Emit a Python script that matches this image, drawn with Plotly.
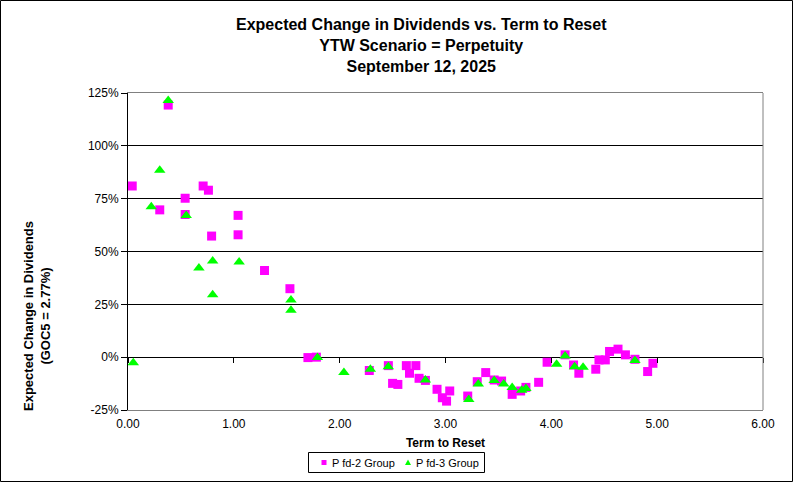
import plotly.graph_objects as go

# Pfd-2 Group (term to reset in years, expected change in dividends in %)
pfd2_x = [0.04, 0.38, 0.30, 0.54, 0.54, 0.71, 0.76, 0.79, 1.04, 1.04,
          1.29, 1.53, 1.70, 1.78, 2.28, 2.46, 2.50, 2.55, 2.63, 2.72,
          2.66, 2.75, 2.81, 2.92, 2.97, 3.01, 3.04, 3.21, 3.30, 3.38,
          3.46, 3.53, 3.63, 3.71, 3.76, 3.88, 3.96, 4.13, 4.21, 4.26,
          4.42, 4.45, 4.51, 4.55, 4.63, 4.70, 4.79, 4.91, 4.96]
pfd2_y = [81, 119.3, 69.7, 75.2, 67.5, 81, 79, 57.3, 67.1, 57.9,
          41, 32.4, -0.2, 0, -6.3, -4, -12.4, -12.9, -4, -4,
          -7.6, -10, -11, -15.2, -19.2, -20.8, -16, -18.4, -11.6, -7.3,
          -10.8, -11.3, -17.6, -16, -14.3, -11.9, -2.4, 1.1, -3.7, -7.6,
          -5.7, -1.3, -1.3, 2.7, 3.8, 1.1, -1, -6.8, -2.9]

# Pfd-3 Group
pfd3_x = [0.05, 0.22, 0.30, 0.38, 0.55, 0.67, 0.80, 0.80, 1.05, 1.54,
          1.54, 1.79, 2.04, 2.29, 2.46, 2.81, 3.22, 3.31, 3.46, 3.55,
          3.63, 3.72, 3.76, 4.05, 4.13, 4.22, 4.30, 4.79]
pfd3_y = [-2.6, 71.2, 88.4, 121.4, 67, 42.2, 45.5, 29.5, 45, 27,
          22.2, -0.2, -7.3, -5.7, -4.5, -10.8, -20, -12.7, -11.1, -12.7,
          -14.3, -15.6, -14.8, -3.3, 0.6, -4.5, -4.8, -1.6]

x_ticks = [0, 1, 2, 3, 4, 5, 6]
x_labels = ["0.00", "1.00", "2.00", "3.00", "4.00", "5.00", "6.00"]
y_ticks = [-25, 0, 25, 50, 75, 100, 125]
y_labels = ["-25%", "0%", "25%", "50%", "75%", "100%", "125%"]
series_names = ["P fd-2 Group", "P fd-3 Group"]

FONT = "Liberation Sans, Arial, sans-serif"
PW, PH = 635, 317  # plot area size in px
L, T = 128, 93     # plot area offset in px
PINK, GREEN = "#FF00FF", "#00FF00"


def px_x(p):
    return (p - L) / PW


def px_y(p):
    return (T + PH - p) / PH


fig = go.Figure()
fig.add_trace(go.Scatter(
    x=pfd2_x, y=pfd2_y, mode="markers", name=series_names[0], showlegend=False,
    marker=dict(symbol="square", size=9, color=PINK, line=dict(width=0))))
fig.add_trace(go.Scatter(
    x=pfd3_x, y=pfd3_y, mode="markers", name=series_names[1], showlegend=False,
    marker=dict(symbol="triangle-up", size=10, color=GREEN, line=dict(width=0))))

# invisible trace to activate xaxis2 tick marks along y = 0
fig.add_trace(go.Scatter(x=[0, 6], y=[0, 0], xaxis="x2", mode="lines",
                         line=dict(width=0), showlegend=False, hoverinfo="skip"))

fig.update_layout(
    width=793, height=482,
    margin=dict(l=L, r=793 - L - PW, t=T, b=482 - T - PH, autoexpand=False),
    paper_bgcolor="white", plot_bgcolor="white",
    font=dict(family=FONT, size=12, color="black"),
    showlegend=False,
    xaxis=dict(
        range=[0, 6], tickvals=x_ticks, ticktext=x_labels,
        showgrid=False, zeroline=False,
        showline=True, linecolor="#808080", linewidth=1, mirror=True,
        ticks="outside", ticklen=3, tickcolor="rgba(0,0,0,0)",
        tickfont=dict(size=12),
        title=dict(text="<b>Term to Reset</b>", font=dict(size=12), standoff=8)),
    xaxis2=dict(
        range=[0, 6], tickvals=x_ticks, overlaying="x", anchor="free",
        position=1/6, side="bottom", showticklabels=False, showgrid=False,
        zeroline=False, showline=False, ticks="outside", ticklen=5,
        tickcolor="black"),
    yaxis=dict(
        range=[-25, 125], tickvals=y_ticks, ticktext=y_labels,
        showgrid=True, gridcolor="black", gridwidth=1,
        zeroline=False, showline=True, linecolor="black", linewidth=1,
        ticks="outside", ticklen=6, tickcolor="black",
        tickfont=dict(size=12)),
)

fig.add_annotation(
    text="<b>Expected Change in Dividends vs. Term to Reset<br>YTW Scenario = Perpetuity<br>September 12, 2025</b>",
    xref="paper", yref="paper", x=px_x(421), xanchor="center",
    y=px_y(14), yanchor="top", showarrow=False, align="center",
    font=dict(size=16, family=FONT, color="black"))

fig.add_annotation(
    text="<b>Expected Change in Dividends<br>(GOC5 = 2.77%)</b>",
    xref="paper", yref="paper", x=px_x(37), xanchor="center",
    y=px_y(316), yanchor="middle", textangle=-90,
    showarrow=False, font=dict(size=13, family=FONT), align="center")

# legend (drawn manually to match the compact original)
fig.add_shape(type="rect", xref="paper", yref="paper",
              x0=px_x(308.5), x1=px_x(484.5), y0=px_y(472.5), y1=px_y(452.5),
              line=dict(color="black", width=1), fillcolor="white")
fig.add_shape(type="rect", xref="paper", yref="paper",
              x0=px_x(321.5), x1=px_x(326.5), y0=px_y(465), y1=px_y(460),
              line=dict(width=0), fillcolor=PINK)
fig.add_shape(type="path", xref="paper", yref="paper",
              path=f"M {px_x(405)} {px_y(465)} L {px_x(411)} {px_y(465)} L {px_x(408)} {px_y(459.5)} Z",
              line=dict(width=0), fillcolor=GREEN)
for name, xpos in zip(series_names, [330, 414]):
    fig.add_annotation(text=name, xref="paper", yref="paper",
                       x=px_x(xpos), xanchor="left", y=px_y(462.5),
                       yanchor="middle", showarrow=False,
                       font=dict(size=11, family=FONT, color="black"))

# right plot-area border (gray) and outer chart border
fig.add_shape(type="line", xref="paper", yref="paper", x0=1, x1=1, y0=0, y1=1,
              line=dict(color="#808080", width=1))
fig.add_shape(type="rect", xref="paper", yref="paper",
              x0=px_x(0.5), x1=px_x(792.5), y0=px_y(481.5), y1=px_y(0.5),
              line=dict(color="black", width=1))

fig.write_html("out.html", config={"displayModeBar": False},
               post_script="document.body.style.margin='0';")
